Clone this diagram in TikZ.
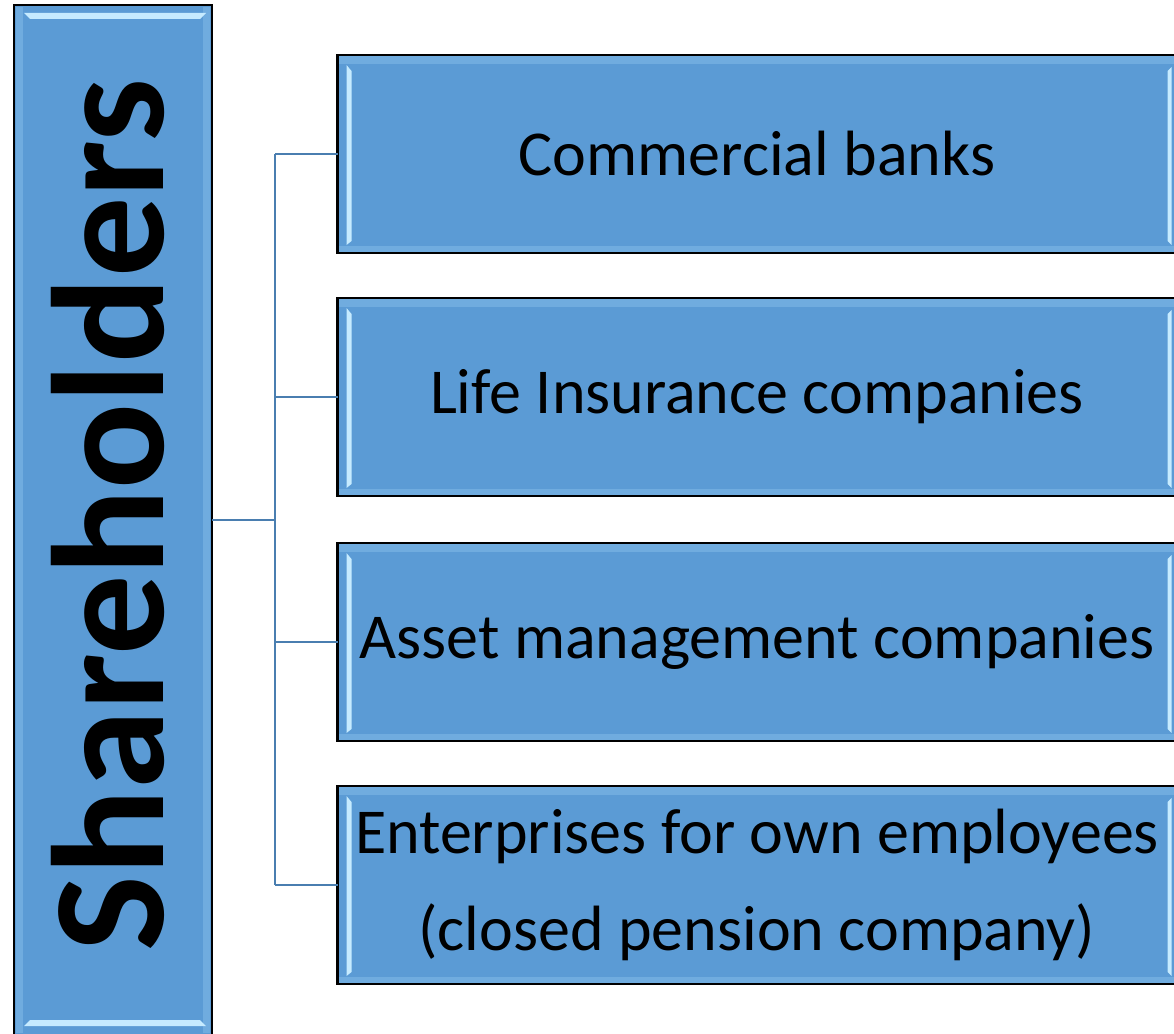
\documentclass[tikz,border=0pt]{standalone}
\usepackage{fontspec}
\newfontfamily\calfont{Carlito}
\definecolor{boxblue}{HTML}{5B9BD5}
\definecolor{bevlight}{HTML}{C6EBFF}
\definecolor{bevmid}{HTML}{86BDEA}
\definecolor{connblue}{HTML}{4A7EB0}
\tikzset{
  cbox/.style={draw=black, line width=2.5pt, fill=boxblue, minimum width=839, minimum height=198, inner sep=0pt, outer sep=0pt, font=\calfont\fontsize{64}{97}\selectfont, align=center, text=black},
  bigbox/.style={draw=black, line width=2.5pt, fill=boxblue, minimum width=198, minimum height=1030, inner sep=0pt, outer sep=0pt},
  conn/.style={draw=connblue, line width=2.5pt},
  bev/.style={fill=bevlight, draw=none},
  bevband/.style={fill=bevmid, draw=none, opacity=0.5}
}
\begin{document}
\begin{tikzpicture}[x=1pt,y=-1pt]
\clip (0,0) rectangle (1174,1033);
\fill[white] (0,0) rectangle (1174,1033);
% big box
\node[bigbox] (sh) at (113,520) {};
\fill[bevband] (16,7) rectangle (23,1033);
\fill[bevband] (203,7) rectangle (210,1033);
\fill[bev] (24,13) -- (206,13) -- (200,19) -- (30,19) -- cycle;
\fill[bev] (24,1026) -- (206,1026) -- (200,1020) -- (30,1020) -- cycle;
\node[rotate=90, font=\calfont\bfseries\fontsize{160}{170}\selectfont, text=black] (shl) at (108,515) {Shareholders};
% child boxes
\node[cbox] (c1) at (757,154) {Commercial banks};
\node[cbox] (c2) at (757,397) {Life Insurance companies};
\node[cbox] (c3) at (757,642) {Asset management companies};
\node[cbox] (c4) at (757,885) {Enterprises for own employees\\(closed pension company)};
\foreach \n in {c1,c2,c3,c4}{
  \fill[bevband] ([xshift=1pt,yshift=-1pt]\n.north west) rectangle ([xshift=-1pt,yshift=-9pt]\n.north east);
  \fill[bevband] ([xshift=1pt,yshift=1pt]\n.south west) rectangle ([xshift=-1pt,yshift=7pt]\n.south east);
  \fill[bev] ([xshift=9pt,yshift=-10pt]\n.north west) -- ([xshift=14pt,yshift=-16pt]\n.north west) -- ([xshift=14pt,yshift=12pt]\n.south west) -- ([xshift=9pt,yshift=8pt]\n.south west) -- cycle;
  \fill[bev] ([xshift=-5pt,yshift=-12pt]\n.north east) -- ([xshift=-9pt,yshift=-16pt]\n.north east) -- ([xshift=-9pt,yshift=12pt]\n.south east) -- ([xshift=-5pt,yshift=8pt]\n.south east) -- cycle;
}
% connectors
\coordinate (j) at (275,520);
\draw[conn] (sh.east |- j) -- (j);
\draw[conn] (j |- c1.west) -- (j |- c4.west);
\foreach \n in {c1,c2,c3,c4}{
  \draw[conn] (j |- \n.west) -- (\n.west);
}
\end{tikzpicture}
\end{document}
